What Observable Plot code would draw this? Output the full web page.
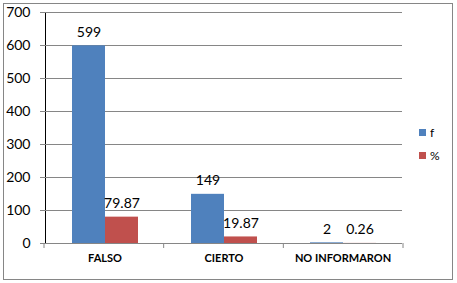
<!DOCTYPE html>
<html><head><meta charset="utf-8">
<script src="https://cdn.jsdelivr.net/npm/d3@7"></script>
<script src="https://cdn.jsdelivr.net/npm/@observablehq/plot@0.6"></script>
<style>
body{margin:0;background:#fff;}
#wrap{position:relative;width:457px;height:283px;font-family:Lato,sans-serif;}
#border{position:absolute;left:3px;top:3px;width:450px;height:277px;border:1px solid #868686;box-sizing:border-box}
#chart{position:absolute;left:0;top:0;}
#legend{position:absolute;left:419px;top:121px;font-size:12px;color:#000;}
#legend .row{display:flex;align-items:center;height:23px;}
#legend .sw{width:7px;height:7px;margin-right:4px;}
svg [aria-label^="y-axis"] text{font-size:14px;fill:#000;}
svg [aria-label^="y-axis"] path, svg [aria-label^="y-axis"] line{stroke:#868686;}
svg [aria-label^="fx-axis"] text{font-size:11px;font-weight:bold;fill:#000;}
</style></head><body>
<div id="wrap"><div id="border"></div><div id="chart"></div><div id="legend"></div></div>
<script>
const categories = ["FALSO", "CIERTO", "NO INFORMARON"];
const seriesNames = ["f", "%"];
const fValues = [599, 149, 2];
const pctValues = [79.87, 19.87, 0.26];
const yTicks = [0, 100, 200, 300, 400, 500, 600, 700];
const colors = ["#4F81BD", "#C0504D"];

const rows = categories.flatMap((c, i) => [
  {cat: c, series: "f", value: fValues[i], label: String(fValues[i])},
  {cat: c, series: "%", value: pctValues[i], label: pctValues[i].toFixed(2)}
]);

const chart = Plot.plot({
  width: 457, height: 283,
  marginLeft: 44, marginRight: 54, marginTop: 12, marginBottom: 40,
  style: {fontFamily: "Lato, sans-serif", background: "transparent", overflow: "visible"},
  facet: {data: rows, x: "cat", marginBottom: 40},
  fx: {domain: categories, padding: 0, label: null, tickSize: 0, tickPadding: 11, axis: "bottom"},
  x: {domain: seriesNames, paddingInner: 0, paddingOuter: 0.76, axis: null},
  y: {domain: [0, 700], ticks: yTicks, tickSize: 5, tickPadding: 10, label: null, line: true, tickFormat: d => String(d)},
  color: {domain: seriesNames, range: colors},
  marks: [
    Plot.ruleY(yTicks, {stroke: "#868686", strokeWidth: 1}),
    Plot.barY(rows, {x: "series", y: "value", fill: "series"}),
    Plot.text(rows, {x: "series", y: "value", text: "label", lineAnchor: "bottom", dy: -9, fontSize: 14, fill: "#000"})
  ]
});
document.getElementById("chart").appendChild(chart);

// category boundary ticks on the baseline, from the fx and y scales
const fx = chart.scale("fx");
const ys = chart.scale("y");
const y0 = ys.apply ? ys.apply(0) : ys.range[0];
const step = (fx.range[1] - fx.range[0]) / categories.length;
const bounds = d3.range(categories.length + 1).map(i => fx.range[0] + i * step);
d3.select(chart).append("g").selectAll("line").data(bounds).join("line")
  .attr("x1", d => d).attr("x2", d => d).attr("y1", y0).attr("y2", y0 + 5)
  .attr("stroke", "#868686");

// legend
const leg = d3.select("#legend");
seriesNames.forEach((s, i) => {
  const r = leg.append("div").attr("class", "row");
  r.append("div").attr("class", "sw").style("background", colors[i]);
  r.append("span").text(s);
});
</script>
</body></html>
